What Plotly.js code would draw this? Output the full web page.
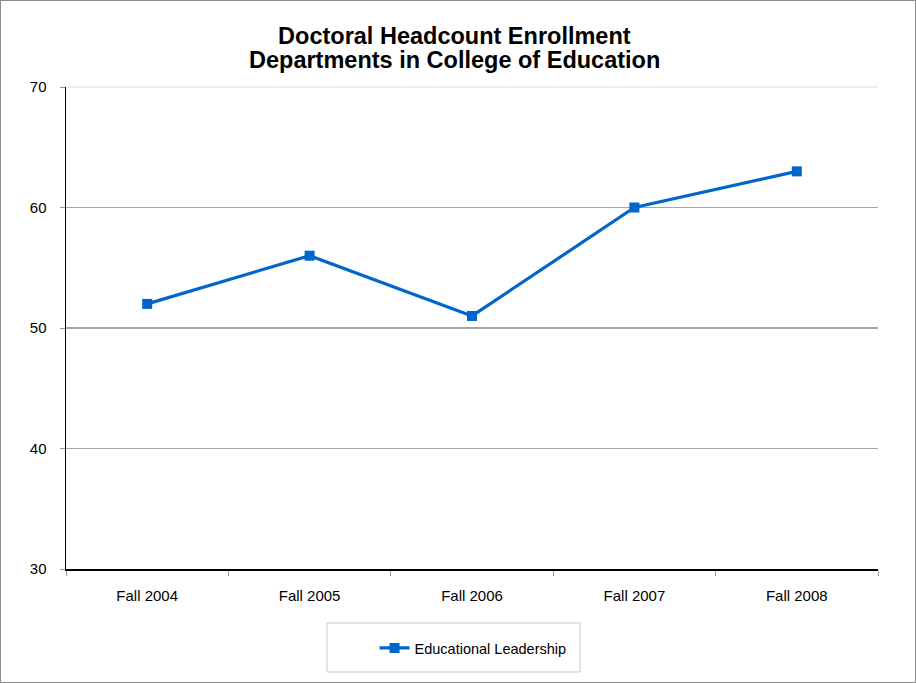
<!DOCTYPE html>
<html>
<head>
<meta charset="utf-8">
<script src="https://cdn.plot.ly/plotly-3.0.1.min.js"></script>
<style>
html,body{margin:0;padding:0;background:#fff;}
#chart{width:916px;height:683px;box-sizing:border-box;border:1px solid #8c8c8c;}
</style>
</head>
<body>
<div id="chart"></div>
<script>
const categories = ["Fall 2004", "Fall 2005", "Fall 2006", "Fall 2007", "Fall 2008"];
const enrollment = [52, 56, 51, 60, 63];
const seriesName = "Educational Leadership";
const yTicks = [30, 40, 50, 60, 70];
const titleLine1 = "Doctoral Headcount Enrollment";
const titleLine2 = "Departments in College of Education";

const FONT = "Liberation Sans, Arial, sans-serif";

const trace = {
  x: categories,
  y: enrollment,
  name: seriesName,
  type: "scatter",
  mode: "lines+markers",
  line: {color: "#0066CC", width: 3.2},
  marker: {color: "#0066CC", symbol: "square", size: 10},
  showlegend: true
};

const layout = {
  width: 914, height: 681,
  margin: {l: 65, r: 37, t: 86, b: 113},
  paper_bgcolor: "#ffffff",
  plot_bgcolor: "#ffffff",
  font: {family: FONT, size: 15, color: "#000"},
  title: {
    text: "<b>" + titleLine1 + "</b>",
    font: {family: FONT, size: 23.5, color: "#000"},
    x: 0.496, xanchor: "center",
    yref: "container", y: 0.9486, yanchor: "middle"
  },
  annotations: [
    {text: "<b>" + titleLine2 + "</b>", xref: "paper", yref: "paper",
     x: 0.479, y: 1.057, xanchor: "center", yanchor: "middle",
     showarrow: false, font: {family: FONT, size: 23.5, color: "#000"}}
  ],
  xaxis: {
    type: "category",
    range: [-0.5, 4.5],
    showline: true, linecolor: "#000", linewidth: 1.5,
    ticks: "outside", tickson: "boundaries", ticklen: 5, tickcolor: "#999",
    ticklabelstandoff: 12,
    showgrid: false, zeroline: false,
    tickfont: {family: FONT, size: 15, color: "#000"}
  },
  yaxis: {
    range: [30, 70],
    tickvals: yTicks,
    showline: true, linecolor: "#000", linewidth: 1.5,
    ticks: "outside", ticklen: 5, tickcolor: "#999",
    ticklabelstandoff: 10,
    showgrid: true, gridcolor: "#a6a6a6", gridwidth: 1.5,
    zeroline: false,
    tickfont: {family: FONT, size: 15, color: "#000"}
  },
  shapes: [
    {type: "line", xref: "paper", yref: "paper", x0: 0.002, x1: 1, y0: 1, y1: 1,
     line: {color: "#f0f0f0", width: 2}, layer: "below"},
    {type: "rect", xref: "paper", yref: "paper",
     x0: 0.3214, x1: 0.633, y0: -0.2137, y1: -0.112,
     line: {color: "#c8c8c8", width: 1}, fillcolor: "rgba(0,0,0,0)"}
  ],
  showlegend: true,
  legend: {
    orientation: "h",
    x: 0.380, xanchor: "left",
    y: -0.164, yanchor: "middle",
    bgcolor: "rgba(0,0,0,0)", borderwidth: 0,
    font: {family: FONT, size: 14.5, color: "#000"}
  }
};

Plotly.newPlot("chart", [trace], layout, {displayModeBar: false, staticPlot: true});
</script>
</body>
</html>
